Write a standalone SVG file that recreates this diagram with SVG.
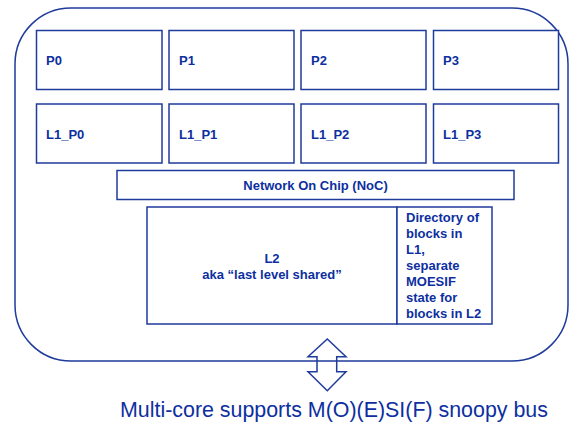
<svg xmlns="http://www.w3.org/2000/svg" width="578" height="429" viewBox="0 0 578 429">
<style>
.box{fill:#fff;stroke:#1f3b9b;stroke-width:1.5}
.lbl{font-family:"Liberation Sans",Arial,sans-serif;font-weight:bold;font-size:13px;fill:#0d2f9f}
.big{font-family:"Liberation Sans",Arial,sans-serif;font-size:21.4px;fill:#0d2f9f}
</style>
<rect width="578" height="429" fill="#fff"/>
<g id="chip"><rect x="15" y="8" width="553" height="353" rx="56" ry="56" fill="none" stroke="#1f3b9b" stroke-width="1.5"/></g>
<g id="P0"><rect class="box" x="36.5" y="30.5" width="125.5" height="59"/><text class="lbl" x="46" y="65">P0</text></g>
<g id="P1"><rect class="box" x="169" y="30.5" width="125" height="59"/><text class="lbl" x="179" y="65">P1</text></g>
<g id="P2"><rect class="box" x="301" y="30.5" width="125" height="59"/><text class="lbl" x="311" y="65">P2</text></g>
<g id="P3"><rect class="box" x="433.5" y="30.5" width="125" height="59"/><text class="lbl" x="443" y="65">P3</text></g>
<g id="L1_P0"><rect class="box" x="36.5" y="104" width="125.5" height="59"/><text class="lbl" x="46" y="139">L1_P0</text></g>
<g id="L1_P1"><rect class="box" x="169" y="104" width="125" height="59"/><text class="lbl" x="179" y="139">L1_P1</text></g>
<g id="L1_P2"><rect class="box" x="301" y="104" width="125" height="59"/><text class="lbl" x="311" y="139">L1_P2</text></g>
<g id="L1_P3"><rect class="box" x="433.5" y="104" width="125" height="59"/><text class="lbl" x="443" y="139">L1_P3</text></g>
<g id="NoC"><rect class="box" x="117" y="170.5" width="397" height="29"/><text class="lbl" x="315.5" y="190" text-anchor="middle">Network On Chip (NoC)</text></g>
<g id="L2"><rect class="box" x="147" y="207" width="250" height="117"/><text class="lbl" x="272" y="263" text-anchor="middle">L2</text><text class="lbl" x="272" y="279" text-anchor="middle">aka “last level shared”</text></g>
<g id="Directory"><rect class="box" x="397" y="207" width="95" height="117"/>
<text class="lbl" x="406" y="222">Directory of</text>
<text class="lbl" x="406" y="238">blocks in</text>
<text class="lbl" x="406" y="254">L1,</text>
<text class="lbl" x="406" y="270">separate</text>
<text class="lbl" x="406" y="286">MOESIF</text>
<text class="lbl" x="406" y="302">state for</text>
<text class="lbl" x="406" y="318">blocks in L2</text></g>
<g id="connectors"><path d="M327.3 339 L346 356.7 L336.7 356.7 L336.7 371.7 L346 371.7 L327.3 390.7 L308 371.7 L317 371.7 L317 356.7 L308 356.7 Z" fill="none" stroke="#1f3b9b" stroke-width="1.5" stroke-linejoin="miter"/></g>
<text class="big" x="120" y="417">Multi-core supports M(O)(E)SI(F) snoopy bus</text>
</svg>
